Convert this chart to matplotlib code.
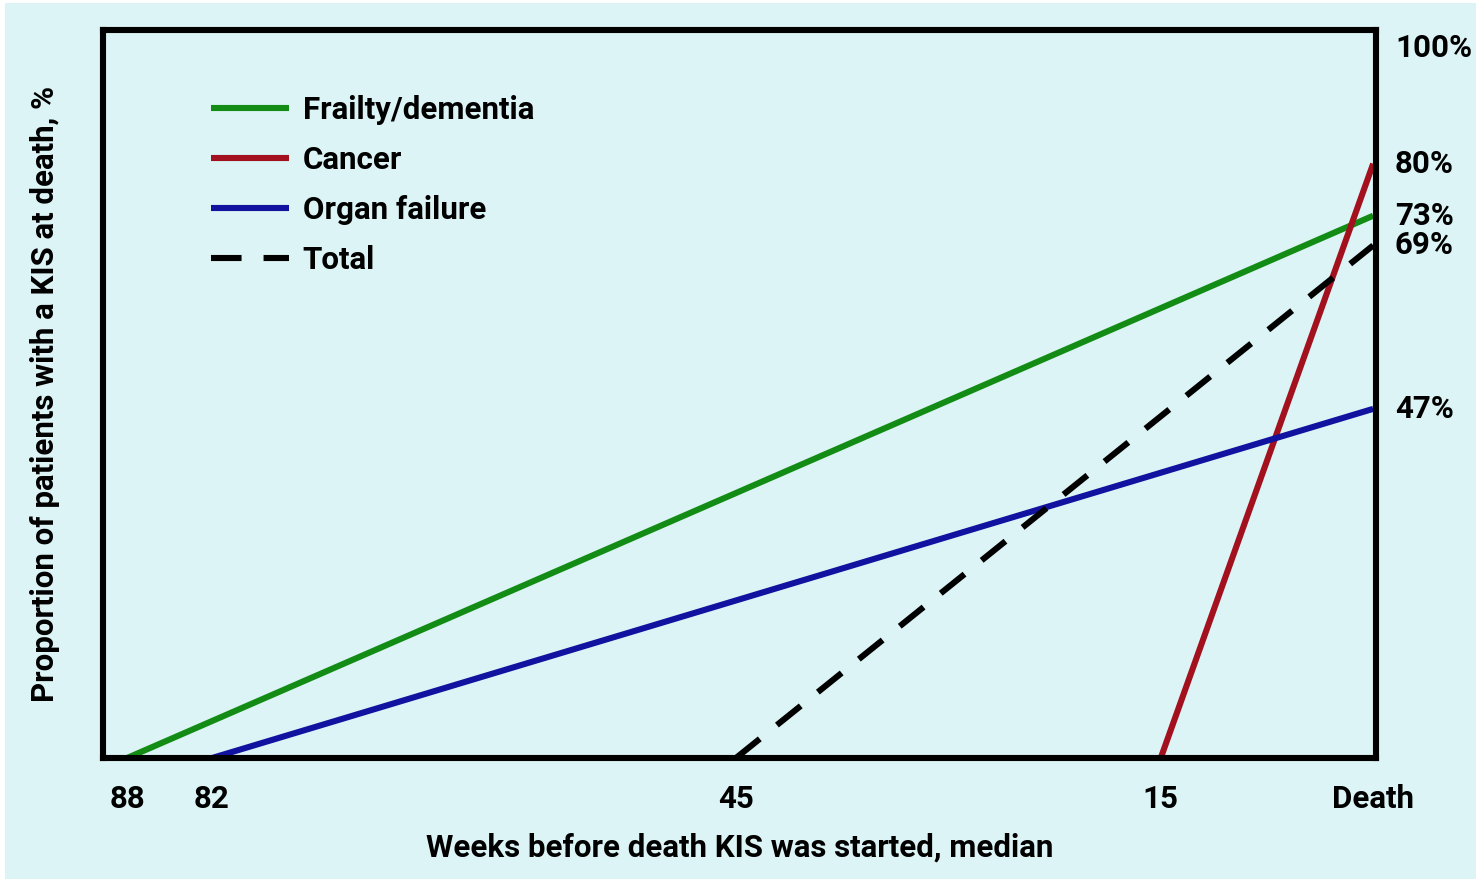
import matplotlib
matplotlib.use("Agg")
import matplotlib.pyplot as plt
from matplotlib.patches import Rectangle
from matplotlib.transforms import offset_copy

# data: week KIS was started (median) and share with a KIS at death
series = ["Frailty/dementia", "Cancer", "Organ failure", "Total"]
start_weeks = [88, 15, 82, 45]
end_values = [73, 80, 47, 69]
colors = ["#128c14", "#a3111f", "#1212a0", "#000000"]
styles = ["solid", "solid", "solid", "dashed"]

tick_weeks = [88, 82, 45, 15, 0]
tick_labels = ["88", "82", "45", "15", "Death"]
right_labels = [100, 80, 73, 69, 47]

bg = "#dcf4f5"
fs = 22.5
plt.rcParams["font.family"] = ["Roboto", "DejaVu Sans"]
plt.rcParams["font.weight"] = "bold"

fig = plt.figure(figsize=(14.76, 8.82), dpi=100, facecolor="white")
fig.patches.append(Rectangle((5 / 1476, 0.003), 1 - 5 / 1476, 1 - 3 / 882 - 0.003,
                             transform=fig.transFigure, facecolor=bg,
                             edgecolor="none", zorder=-10))
ax = fig.add_axes([103 / 1476, 124 / 882, 1273 / 1476, 728 / 882])
ax.set_facecolor(bg)

for name, w, v, c, ls in zip(series, start_weeks, end_values, colors, styles):
    line, = ax.plot([w, 0], [0, v], color=c, lw=4.4, label=name,
                    solid_capstyle="butt", dash_capstyle="butt")
    if ls == "dashed":
        line.set_dashes((5, 3.6))

ax.set_xlim(89.7, -0.2)
ax.set_ylim(0, 98)

for s in ax.spines.values():
    s.set_linewidth(4.4)
    s.set_color("black")

ax.set_xticks(tick_weeks)
ax.set_xticklabels(tick_labels, fontsize=fs, fontweight="bold")
ax.tick_params(axis="x", length=0, pad=19)
ax.set_yticks([])
ax.set_xlabel("Weeks before death KIS was started, median", fontsize=fs,
              fontweight="bold", labelpad=13)
ax.set_ylabel("Proportion of patients with a KIS at death, %", fontsize=fs,
              fontweight="bold", labelpad=31)

trans = offset_copy(ax.get_yaxis_transform(), fig=fig, x=19, y=0, units="dots")
for v in right_labels:
    if v >= ax.get_ylim()[1]:
        ax.text(1, 1, f"{v}%", transform=offset_copy(ax.transAxes, fig=fig, x=19, y=-3,
                                                    units="dots"),
                ha="left", va="top", fontsize=fs, fontweight="bold")
    else:
        ax.text(1, v, f"{v}%", transform=trans, ha="left", va="center",
                fontsize=fs, fontweight="bold")

leg = ax.legend(loc="upper left", bbox_to_anchor=(0.063, 0.95), frameon=False,
                fontsize=fs, handlelength=2.5, handletextpad=0.42,
                labelspacing=0.645)

fig.savefig("out.png", dpi=100, facecolor=fig.get_facecolor())
